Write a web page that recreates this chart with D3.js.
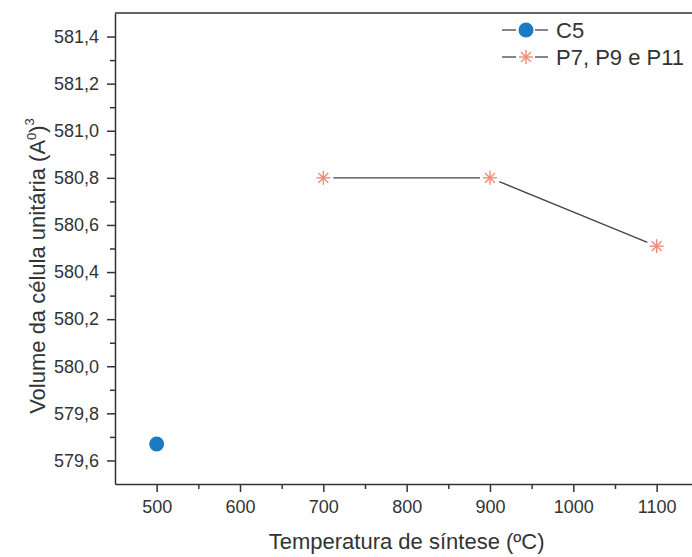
<!DOCTYPE html>
<html>
<head>
<meta charset="utf-8">
<script src="https://cdn.jsdelivr.net/npm/d3@7"></script>
<style>
  body { margin: 0; background: #fff; }
  svg text { font-family: "Liberation Sans", Arial, sans-serif; fill: #333; }
</style>
</head>
<body>
<div id="vis"></div>
<script>
'use strict';

// series: C5
var c5Temp = [500];
var c5Volume = [579.67];

// series: P7, P9 e P11
var pTemp = [700, 900, 1100];
var pVolume = [580.80, 580.80, 580.51];

var legendLabels = ['C5', 'P7, P9 e P11'];
var xTicks = [500, 600, 700, 800, 900, 1000, 1100];
var yTicks = [579.6, 579.8, 580.0, 580.2, 580.4, 580.6, 580.8, 581.0, 581.2, 581.4];

(function () {
    var width = 692, height = 557;
    var plotLeft = 115, plotTop = 13, plotBottom = 484;

    var svg = d3.select('#vis').append('svg')
        .attr('width', width)
        .attr('height', height);

    var x = d3.scaleLinear().domain([450, 1150]).range([plotLeft, plotLeft + 700 * 0.8333]);
    var y = d3.scaleLinear().domain([579.5, 581.5]).range([plotBottom, plotTop]);

    var fmt = function (d) { return d3.format('.1f')(d).replace('.', ','); };

    // minor ticks
    svg.append('g')
        .attr('transform', 'translate(0,' + plotBottom + ')')
        .call(d3.axisBottom(x).tickValues(d3.range(550, 1150, 100)).tickSize(5).tickFormat(''))
        .call(function (g) { g.select('.domain').remove(); });
    svg.append('g')
        .attr('transform', 'translate(' + plotLeft + ',0)')
        .call(d3.axisLeft(y).tickValues(d3.range(579.7, 581.5, 0.2)).tickSize(5).tickFormat(''))
        .call(function (g) { g.select('.domain').remove(); });

    // major axes
    var xAxis = svg.append('g')
        .attr('transform', 'translate(0,' + plotBottom + ')')
        .call(d3.axisBottom(x).tickValues(xTicks).tickSize(8).tickPadding(8)
            .tickFormat(d3.format('d')).tickSizeOuter(0));
    xAxis.selectAll('text').attr('font-size', 18);

    var yAxis = svg.append('g')
        .attr('transform', 'translate(' + plotLeft + ',0)')
        .call(d3.axisLeft(y).tickValues(yTicks).tickSize(8).tickPadding(8).tickFormat(fmt).tickSizeOuter(0));
    yAxis.selectAll('text').attr('font-size', 18);

    svg.selectAll('.domain, .tick line').attr('stroke', '#333').attr('stroke-width', 1.5);

    // top border
    svg.append('line')
        .attr('x1', plotLeft).attr('x2', width)
        .attr('y1', plotTop).attr('y2', plotTop)
        .attr('stroke', '#333').attr('stroke-width', 1.5);

    // axis titles
    svg.append('text')
        .attr('x', x(800)).attr('y', 549)
        .attr('text-anchor', 'middle')
        .attr('font-size', 22)
        .text('Temperatura de síntese (ºC)');

    var yTitle = svg.append('text')
        .attr('transform', 'translate(45,266) rotate(-90)')
        .attr('text-anchor', 'middle')
        .attr('font-size', 22);
    yTitle.append('tspan').text('Volume da célula unitária (A');
    yTitle.append('tspan').attr('font-size', 13).attr('dy', -9).text('0');
    yTitle.append('tspan').attr('dy', 9).text(')');
    yTitle.append('tspan').attr('font-size', 13).attr('dy', -11).text('3');

    // star marker
    function star(g, cx, cy, r) {
        var s = g.append('g').attr('transform', 'translate(' + cx + ',' + cy + ')');
        [0, 45, 90, 135].forEach(function (a) {
            var rad = a * Math.PI / 180;
            s.append('line')
                .attr('x1', -r * Math.cos(rad)).attr('y1', -r * Math.sin(rad))
                .attr('x2', r * Math.cos(rad)).attr('y2', r * Math.sin(rad))
                .attr('stroke', '#ef8a78').attr('stroke-width', 1.4);
        });
    }

    // P series line, with gaps around markers
    var gap = 10;
    var pData = pTemp.map(function (t, i) { return [x(t), y(pVolume[i])]; });
    for (var i = 0; i < pData.length - 1; i++) {
        var a = pData[i], b = pData[i + 1];
        var dx = b[0] - a[0], dy = b[1] - a[1];
        var len = Math.sqrt(dx * dx + dy * dy);
        svg.append('line')
            .attr('x1', a[0] + dx / len * gap).attr('y1', a[1] + dy / len * gap)
            .attr('x2', b[0] - dx / len * gap).attr('y2', b[1] - dy / len * gap)
            .attr('stroke', '#444').attr('stroke-width', 1.3);
    }
    pData.forEach(function (p) { star(svg, p[0], p[1], 7); });

    // C5 points
    svg.selectAll('circle.c5')
        .data(c5Temp)
        .enter().append('circle')
        .attr('class', 'c5')
        .attr('cx', function (d) { return x(d); })
        .attr('cy', function (d, i) { return y(c5Volume[i]); })
        .attr('r', 7.5)
        .attr('fill', '#1a7bc4');

    // legend
    var lg = svg.append('g');
    legendLabels.forEach(function (lab, i) {
        var ly = 30 + i * 27;
        lg.append('line').attr('x1', 502).attr('x2', 516).attr('y1', ly).attr('y2', ly)
            .attr('stroke', '#444').attr('stroke-width', 1.3);
        lg.append('line').attr('x1', 535).attr('x2', 548).attr('y1', ly).attr('y2', ly)
            .attr('stroke', '#444').attr('stroke-width', 1.3);
        if (i === 0) {
            lg.append('circle').attr('cx', 526).attr('cy', ly).attr('r', 7.5).attr('fill', '#1a7bc4');
        } else {
            star(lg, 526, ly, 7);
        }
        lg.append('text').attr('x', 556).attr('y', ly + 7.5).attr('font-size', 22).text(lab);
    });
})();
</script>
</body>
</html>
